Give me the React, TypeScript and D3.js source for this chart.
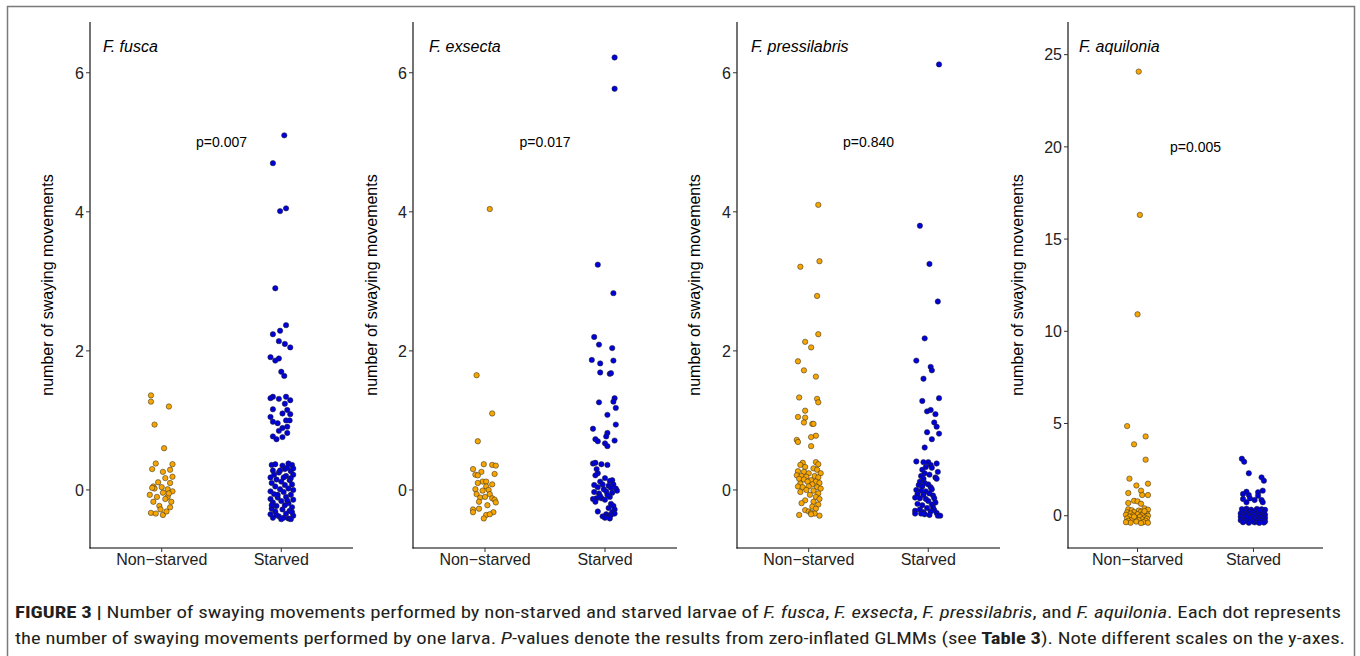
import React from 'react';
import * as d3 from 'd3';

// ---------- data ----------
const groups = ['Non\u2212starved', 'Starved'];
const species = ['F. fusca', 'F. exsecta', 'F. pressilabris', 'F. aquilonia'];
const pValues = ['p=0.007', 'p=0.017', 'p=0.840', 'p=0.005'];
const pValueY = [5, 5, 5, 20];
const yDomains: [number, number][] = [[-0.835, 6.73], [-0.835, 6.73], [-0.835, 6.73], [-1.75, 26.77]];
const yTicks = [[0, 2, 4, 6], [0, 2, 4, 6], [0, 2, 4, 6], [0, 5, 10, 15, 20, 25]];

// each point: [horizontal jitter in category units, number of swaying movements]
const fuscaNon: [number, number][] = [
  [-0.09, 1.36], [-0.09, 1.27], [0.06, 1.2], [-0.06, 0.94], [0.02, 0.6], [-0.05, 0.38], [0.09, 0.37],
  [-0.08, 0.3], [0.01, 0.26], [0.07, 0.29], [0.09, 0.19], [0.03, 0.17], [-0.03, 0.11], [0.07, 0.1],
  [-0.07, 0.05], [-0.06, 0.02], [0.0, 0.04], [0.05, 0.01], [0.09, -0.02], [-0.1, -0.07], [0.01, -0.04],
  [-0.04, -0.1], [0.05, -0.1], [0.08, -0.17], [-0.07, -0.17], [0.03, -0.13], [-0.02, -0.23], [0.07, -0.25],
  [-0.01, -0.28], [-0.09, -0.33], [-0.05, -0.34], [0.01, -0.36], [0.04, -0.31], [-0.08, 0.03], [0.06, -0.05],
];
const fuscaStarved: [number, number][] = [
  [0.025, 5.1], [-0.07, 4.7], [-0.01, 4.01], [0.04, 4.05], [-0.05, 2.9],
  [0.04, 2.37], [-0.01, 2.29], [-0.07, 2.24], [-0.02, 2.14], [0.03, 2.1], [0.075, 2.05], [-0.09, 1.91],
  [-0.02, 1.89], [-0.05, 1.86], [0.0, 1.7], [0.025, 1.64], [-0.07, 1.34], [-0.09, 1.32], [-0.02, 1.31],
  [0.04, 1.34], [0.075, 1.29], [0.03, 1.24], [-0.07, 1.16], [0.05, 1.15], [0.01, 1.1], [0.075, 1.09],
  [-0.09, 1.05], [-0.07, 0.98], [-0.03, 0.96], [0.04, 1.0], [0.07, 1.0], [0.05, 0.91], [0.01, 0.89],
  [-0.02, 0.85], [0.05, 0.82], [-0.07, 0.77], [0.01, 0.76], [-0.04, 0.73],
  [-0.08, 0.36], [-0.05, 0.37], [0.01, 0.35], [0.06, 0.38], [0.09, 0.36], [0.03, 0.3], [-0.07, 0.28],
  [0.08, 0.27], [-0.02, 0.25], [0.1, 0.22], [0.04, 0.2], [-0.09, 0.18], [-0.04, 0.15], [0.07, 0.14],
  [0.0, 0.12], [-0.08, 0.1], [0.09, 0.08], [0.03, 0.07], [-0.05, 0.05], [0.06, 0.02], [-0.01, 0.01],
  [0.1, 0.0], [-0.09, -0.02], [0.02, -0.03], [-0.06, -0.06], [0.08, -0.07], [0.04, -0.1], [-0.03, -0.11],
  [-0.09, -0.13], [0.1, -0.14], [0.0, -0.16], [-0.07, -0.18], [0.06, -0.19], [0.03, -0.22], [-0.04, -0.23],
  [0.09, -0.25], [-0.08, -0.27], [0.01, -0.28], [0.07, -0.3], [-0.05, -0.31], [-0.09, -0.35], [0.04, -0.34],
  [0.1, -0.37], [-0.02, -0.38], [-0.07, -0.4], [0.06, -0.41], [0.02, -0.4], [0.08, -0.42], [-0.04, -0.36],
  [0.05, 0.32], [-0.06, 0.22], [0.02, 0.18], [0.08, 0.17], [-0.03, -0.07], [0.05, -0.15], [-0.01, 0.28],
  [0.1, 0.31], [-0.08, -0.22], [0.09, -0.32], [0.0, -0.42],
];
const exsectaNon: [number, number][] = [
  [0.04, 4.04], [-0.07, 1.65], [0.06, 1.1], [-0.06, 0.7], [-0.01, 0.37], [-0.1, 0.3], [0.06, 0.36],
  [0.09, 0.35], [-0.03, 0.26], [-0.08, 0.22], [-0.06, 0.21], [0.08, 0.23], [-0.02, 0.12], [0.01, 0.12],
  [-0.06, 0.1], [0.06, 0.08], [-0.08, 0.01], [0.01, 0.05], [-0.02, -0.01], [0.03, 0.0], [-0.07, -0.06],
  [0.04, -0.06], [-0.04, -0.11], [0.0, -0.1], [0.06, -0.12], [0.08, -0.14], [-0.05, -0.17], [0.09, -0.18],
  [0.02, -0.22], [-0.1, -0.28], [-0.05, -0.27], [-0.1, -0.32], [0.07, -0.32], [0.01, -0.36], [0.04, -0.35],
  [-0.01, -0.41],
];
const exsectaStarved: [number, number][] = [
  [0.08, 6.22], [0.08, 5.77], [-0.06, 3.24], [0.07, 2.83],
  [-0.09, 2.2], [-0.05, 2.09], [0.06, 2.04], [-0.11, 1.87], [-0.04, 1.82], [0.07, 1.86], [-0.04, 1.69],
  [0.04, 1.67], [0.05, 1.68], [-0.05, 1.26], [0.08, 1.32], [0.07, 1.27], [0.09, 1.18], [0.02, 1.08],
  [-0.1, 0.88], [0.09, 0.94], [0.02, 0.82], [0.01, 0.77], [-0.08, 0.73], [-0.06, 0.7], [0.0, 0.67],
  [0.02, 0.63], [0.08, 0.71],
  [-0.1, 0.38], [-0.08, 0.39], [-0.03, 0.37], [0.02, 0.36], [-0.07, 0.3], [-0.06, 0.24], [-0.08, 0.21],
  [0.0, 0.17], [0.04, 0.13], [0.06, 0.14], [-0.04, 0.12], [-0.09, 0.07], [-0.02, 0.08], [0.07, 0.08],
  [0.03, 0.06], [-0.06, 0.04], [0.05, 0.03], [0.09, 0.02], [-0.01, 0.01], [0.01, -0.02], [-0.09, -0.03],
  [0.1, -0.01], [-0.05, -0.05], [0.06, -0.04], [-0.1, -0.13], [-0.07, -0.12], [-0.03, -0.12], [0.0, -0.14],
  [-0.08, -0.17], [0.04, -0.1], [0.05, -0.2], [0.07, -0.23], [0.03, -0.26], [0.08, -0.28], [-0.06, -0.31],
  [0.06, -0.32], [0.01, -0.35], [0.03, -0.37], [0.05, -0.36], [-0.02, -0.38], [0.0, -0.4], [0.04, -0.41],
  [0.08, -0.34], [-0.04, -0.09], [0.02, -0.07],
];
const pressilabrisNon: [number, number][] = [
  [0.08, 4.1], [0.09, 3.29], [-0.07, 3.21], [0.07, 2.79],
  [0.08, 2.24], [-0.03, 2.13], [0.02, 2.05], [-0.09, 1.85], [-0.04, 1.72], [0.06, 1.63], [-0.08, 1.33],
  [0.07, 1.31], [0.08, 1.26], [-0.03, 1.14], [-0.09, 1.05], [-0.03, 1.04], [-0.04, 0.97], [0.03, 0.95],
  [0.04, 0.95], [0.06, 0.78], [0.02, 0.76], [-0.1, 0.72], [-0.09, 0.69], [0.02, 0.63],
  [-0.05, 0.39], [0.06, 0.4], [0.08, 0.37], [-0.07, 0.36], [-0.03, 0.33], [0.04, 0.31], [0.07, 0.29],
  [-0.09, 0.27], [-0.04, 0.26], [0.0, 0.24], [0.1, 0.24], [-0.1, 0.21], [-0.06, 0.2], [-0.02, 0.19],
  [0.05, 0.2], [0.08, 0.18], [-0.08, 0.16], [-0.04, 0.15], [0.02, 0.14], [-0.01, 0.12], [0.06, 0.12],
  [0.09, 0.1], [-0.07, 0.09], [0.03, 0.08], [-0.09, 0.05], [-0.05, 0.04], [0.0, 0.05], [0.07, 0.04],
  [0.1, 0.02], [-0.02, 0.0], [0.04, -0.01], [-0.07, -0.03], [0.08, -0.05], [0.01, -0.07], [0.06, -0.1],
  [0.09, -0.13], [-0.03, -0.15], [0.04, -0.17], [-0.06, -0.19], [0.08, -0.21], [0.03, -0.24], [0.06, -0.27],
  [-0.03, -0.29], [0.0, -0.31], [0.02, -0.33], [0.05, -0.34], [-0.08, -0.36], [0.09, -0.37], [0.02, -0.35],
];
const pressilabrisStarved: [number, number][] = [
  [0.09, 6.12], [-0.07, 3.8], [0.01, 3.25], [0.08, 2.71],
  [-0.03, 2.18], [-0.1, 1.86], [0.02, 1.77], [0.03, 1.72], [-0.04, 1.6], [-0.05, 1.28], [0.09, 1.32],
  [-0.01, 1.13], [0.02, 1.15], [0.06, 1.09], [0.05, 0.97], [0.07, 0.91], [-0.01, 0.83], [0.09, 0.81],
  [0.03, 0.73], [-0.03, 0.61],
  [-0.1, 0.41], [-0.04, 0.4], [0.0, 0.4], [0.07, 0.38], [0.02, 0.36], [-0.02, 0.33], [0.03, 0.32],
  [-0.05, 0.29], [0.08, 0.26], [-0.03, 0.24], [0.01, 0.22], [-0.06, 0.2], [0.06, 0.18], [0.07, 0.16],
  [-0.04, 0.16], [-0.07, 0.12], [-0.03, 0.1], [0.0, 0.08], [-0.08, 0.07], [-0.05, 0.05], [0.02, 0.04],
  [-0.1, 0.0], [-0.06, -0.01], [-0.02, -0.02], [0.03, 0.01], [-0.09, -0.06], [-0.04, -0.07], [0.01, -0.05],
  [0.04, -0.08], [-0.11, -0.11], [-0.07, -0.12], [0.05, -0.12], [-0.02, -0.13], [0.0, -0.16], [0.06, -0.18],
  [-0.09, -0.2], [-0.05, -0.22], [0.03, -0.21], [0.04, -0.25], [-0.01, -0.26], [-0.07, -0.28], [0.05, -0.29],
  [-0.11, -0.3], [0.02, -0.31], [-0.04, -0.32], [0.07, -0.33], [-0.11, -0.34], [-0.03, -0.35], [0.01, -0.36],
  [0.08, -0.37], [0.1, -0.37], [-0.06, -0.34],
];
const aquiloniaNon: [number, number][] = [
  [0.01, 24.08], [0.02, 16.31], [0.0, 10.92], [-0.09, 4.86], [0.07, 4.3], [-0.03, 3.87], [0.07, 3.04],
  [-0.07, 2.01], [-0.01, 1.64], [0.09, 1.74], [-0.08, 1.23], [0.03, 1.36], [0.04, 1.12], [0.09, 1.12],
  [-0.03, 0.81], [0.0, 0.78], [-0.08, 0.69], [0.03, 0.65],
  [-0.08, 0.35], [-0.05, 0.3], [0.01, 0.28], [0.06, 0.4], [0.09, 0.33], [0.03, 0.22], [-0.09, 0.18],
  [-0.03, 0.2], [0.05, 0.15], [0.08, 0.1], [-0.06, 0.12], [0.0, 0.08], [-0.1, 0.05], [0.04, 0.03],
  [0.09, 0.0], [-0.04, 0.02], [-0.07, -0.05], [0.02, -0.06], [0.06, -0.1], [-0.02, -0.12], [-0.09, -0.15],
  [0.08, -0.16], [0.04, -0.2], [-0.05, -0.22], [0.01, -0.25], [-0.08, -0.28], [0.07, -0.27], [-0.01, -0.32],
  [0.05, -0.35], [-0.06, -0.38], [0.03, -0.4], [-0.1, -0.35], [0.09, -0.38], [-0.03, -0.05], [0.06, 0.25],
];
const aquiloniaStarved: [number, number][] = [
  [-0.1, 3.09], [-0.08, 2.93], [-0.04, 2.3], [0.07, 2.08], [0.09, 1.9], [0.08, 1.36], [-0.06, 1.3],
  [0.04, 1.27], [-0.09, 1.18], [-0.04, 1.12], [0.04, 1.08], [-0.09, 0.91], [-0.03, 0.94], [0.01, 0.85],
  [0.07, 0.85], [-0.06, 0.73], [0.08, 0.73],
  [-0.1, 0.36], [-0.06, 0.38], [-0.02, 0.33], [0.03, 0.37], [0.07, 0.35], [0.1, 0.32], [-0.08, 0.25],
  [-0.04, 0.22], [0.01, 0.24], [0.05, 0.2], [0.09, 0.18], [-0.11, 0.12], [-0.06, 0.1], [-0.02, 0.14],
  [0.02, 0.08], [0.06, 0.11], [0.1, 0.06], [-0.09, 0.03], [-0.04, 0.01], [0.0, 0.04], [0.04, 0.0],
  [0.08, -0.02], [-0.11, -0.06], [-0.07, -0.08], [-0.02, -0.05], [0.02, -0.1], [0.06, -0.08], [0.1, -0.12],
  [-0.09, -0.15], [-0.05, -0.18], [0.0, -0.16], [0.04, -0.2], [0.08, -0.18], [-0.11, -0.24], [-0.07, -0.28],
  [-0.02, -0.25], [0.03, -0.29], [0.07, -0.27], [0.1, -0.31], [-0.09, -0.35], [-0.04, -0.38], [0.01, -0.36],
  [0.05, -0.39], [0.09, -0.37], [-0.01, -0.3], [-0.06, -0.01], [0.05, 0.3], [-0.03, -0.11],
];

const panelData = [
  [fuscaNon, fuscaStarved],
  [exsectaNon, exsectaStarved],
  [pressilabrisNon, pressilabrisStarved],
  [aquiloniaNon, aquiloniaStarved],
];

// ---------- layout / style ----------
const W = 1360;
const H = 656;
const plotTop = 22;
const plotBottom = 548;
const panelLeft = [90, 413, 737, 1068];
const panelRight = [353, 677, 1000, 1323];
const titleOffset = [13, 16, 14, 11];
const yTitleOffset = [37, 36, 37, 45];
const groupFill = ['#F7A500', '#0000D8'];
const FONT = "'Liberation Sans', Arial, Helvetica, sans-serif";

function Panel({ i }: { i: number }) {
  const x = d3.scalePoint<string>().domain(groups).range([panelLeft[i], panelRight[i]]).padding(0.6);
  const y = d3.scaleLinear().domain(yDomains[i]).range([plotBottom, plotTop]);
  const step = x.step();
  const midX = ((x(groups[0]) as number) + (x(groups[1]) as number)) / 2;
  return (
    <g>
      {panelData[i].map((pts, g) =>
        pts.map((p, k) => (
          <circle
            key={`${g}-${k}`}
            cx={(x(groups[g]) as number) + p[0] * step}
            cy={y(p[1])}
            r={2.7}
            fill={groupFill[g]}
            stroke="#222"
            strokeWidth={0.5}
          />
        ))
      )}
      <line x1={panelLeft[i]} x2={panelLeft[i]} y1={plotTop} y2={plotBottom + 0.5} stroke="#000" strokeWidth={1.1} />
      <line x1={panelLeft[i] - 0.5} x2={panelRight[i]} y1={plotBottom} y2={plotBottom} stroke="#000" strokeWidth={1.1} />
      {yTicks[i].map((t) => (
        <g key={t}>
          <line x1={panelLeft[i] - 4} x2={panelLeft[i]} y1={y(t)} y2={y(t)} stroke="#333" strokeWidth={1} />
          <text x={panelLeft[i] - 6} y={y(t)} dy="0.36em" textAnchor="end" fontSize={16} fill="#222" fontFamily={FONT}>
            {t}
          </text>
        </g>
      ))}
      {groups.map((g) => (
        <g key={g}>
          <line x1={x(g)} x2={x(g)} y1={plotBottom} y2={plotBottom + 4} stroke="#333" strokeWidth={1} />
          <text x={x(g)} y={565} textAnchor="middle" fontSize={16} fill="#222" fontFamily={FONT}>
            {g}
          </text>
        </g>
      ))}
      <text
        transform={`translate(${panelLeft[i] - yTitleOffset[i]},${(plotTop + plotBottom) / 2}) rotate(-90)`}
        textAnchor="middle"
        fontSize={16}
        fill="#000"
        fontFamily={FONT}
      >
        number of swaying movements
      </text>
      <text x={panelLeft[i] + titleOffset[i]} y={52} fontSize={16} fontStyle="italic" fill="#000" fontFamily={FONT}>
        {species[i]}
      </text>
      <text x={midX} y={y(pValueY[i])} dy="0.35em" textAnchor="middle" fontSize={14} fill="#000" fontFamily={FONT}>
        {pValues[i]}
      </text>
    </g>
  );
}

export default function App() {
  const capFont = "'Liberation Sans Narrow', 'Roboto Condensed', 'Liberation Sans', Arial, sans-serif";
  return (
    <svg width={W} height={H} style={{ position: 'absolute', left: 0, top: 0, background: '#fff' }}>
      <rect x={0} y={0} width={W} height={H} fill="#fff" />
      <rect x={7.5} y={6.5} width={1347} height={680} fill="none" stroke="#7a7a7a" strokeWidth={1.5} />
      {species.map((_, i) => (
        <Panel key={i} i={i} />
      ))}
      <text x={15} y={618} fontSize={17} fill="#231f20" fontFamily={capFont} textLength={1326} lengthAdjust="spacingAndGlyphs">
        <tspan fontWeight="bold">FIGURE 3 |</tspan>
        <tspan> Number of swaying movements performed by non-starved and starved larvae of </tspan>
        <tspan fontStyle="italic">F. fusca</tspan>
        <tspan>, </tspan>
        <tspan fontStyle="italic">F. exsecta</tspan>
        <tspan>, </tspan>
        <tspan fontStyle="italic">F. pressilabris</tspan>
        <tspan>, and </tspan>
        <tspan fontStyle="italic">F. aquilonia</tspan>
        <tspan>. Each dot represents</tspan>
      </text>
      <text x={15} y={644} fontSize={17} fill="#231f20" fontFamily={capFont} textLength={1330} lengthAdjust="spacingAndGlyphs">
        <tspan>the number of swaying movements performed by one larva. </tspan>
        <tspan fontStyle="italic">P</tspan>
        <tspan>-values denote the results from zero-inflated GLMMs (see </tspan>
        <tspan fontWeight="bold">Table 3</tspan>
        <tspan>). Note different scales on the y-axes.</tspan>
      </text>
    </svg>
  );
}
